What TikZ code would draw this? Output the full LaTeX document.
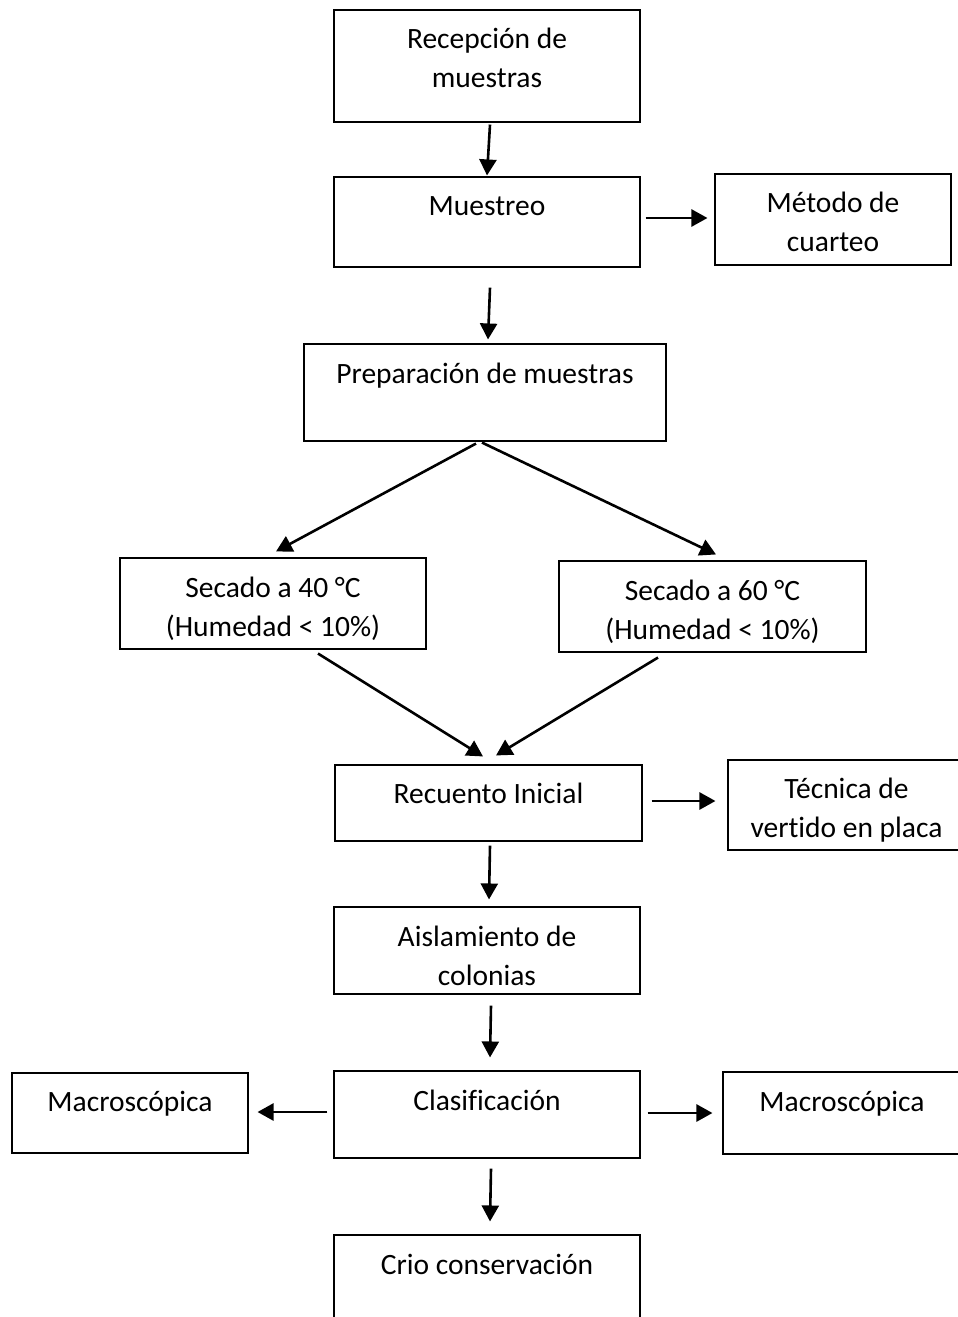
\documentclass[tikz,border=0pt]{standalone}
\usepackage{fontspec}
\setmainfont{Carlito}[Ligatures=NoCommon]
\usetikzlibrary{arrows.meta}
\newcommand\firststrut{\rule{0pt}{26.5pt}}
\begin{document}
\begin{tikzpicture}[x=1pt,y=-1pt,
  box/.style={draw=black, line width=1.1pt, rectangle, inner sep=0pt},
  txt/.style={anchor=north, inner sep=0pt, align=center, text=black,
    font=\fontsize{29.5}{39}\selectfont},
  arr/.style={line width=2.6pt, -{Triangle[length=16pt,width=17pt]}}]
\path[use as bounding box] (0,0) rectangle (958,1317);
\clip (0,0) rectangle (958,1317);
% boxes
\node[box, minimum width=306pt, minimum height=112pt] (rec)  at (487,66) {};
\node[box, minimum width=306pt, minimum height=90pt]  (mue)  at (487,222) {};
\node[box, minimum width=236pt, minimum height=91pt]  (met)  at (833,219.5) {};
\node[box, minimum width=362pt, minimum height=97pt]  (prep) at (485,392.5) {};
\node[box, minimum width=306pt, minimum height=91pt]  (sa)   at (273,603.5) {};
\node[box, minimum width=307pt, minimum height=91pt]  (sb)   at (712.5,606.5) {};
\node[box, minimum width=307pt, minimum height=76pt]  (reci) at (488.5,803) {};
\node[box, minimum width=237pt, minimum height=90pt]  (tec)  at (846.5,805) {};
\node[box, minimum width=306pt, minimum height=87pt]  (ais)  at (487,950.5) {};
\node[box, minimum width=236pt, minimum height=80pt]  (maca) at (130,1113) {};
\node[box, minimum width=306pt, minimum height=87pt]  (clas) at (487,1114.5) {};
\node[box, minimum width=238pt, minimum height=82pt]  (macb) at (842,1113) {};
\node[box, minimum width=306pt, minimum height=95pt]  (crio) at (487,1282.5) {};
% texts
\node[txt] (rec-t)  at ([yshift=-12pt]rec.north)  {\firststrut Recepción de\\muestras};
\node[txt] (mue-t)  at ([yshift=-12.5pt]mue.north)  {\firststrut Muestreo};
\node[txt] (met-t)  at ([yshift=-12.5pt]met.north)  {\firststrut Método de\\cuarteo};
\node[txt] (prep-t) at ([yshift=-13pt]prep.north) {\firststrut Preparación de muestras};
\node[txt] (sa-t)   at ([yshift=-13pt]sa.north)   {\firststrut Secado a 40 °C\\(Humedad < 10\%)};
\node[txt] (sb-t)   at ([yshift=-13pt]sb.north)   {\firststrut Secado a 60 °C\\(Humedad < 10\%)};
\node[txt] (reci-t) at ([yshift=-12.5pt]reci.north) {\firststrut Recuento Inicial};
\node[txt] (tec-t)  at ([yshift=-12.5pt]tec.north)  {\firststrut Técnica de\\vertido en placa};
\node[txt] (ais-t)  at ([yshift=-13pt]ais.north)  {\firststrut Aislamiento de\\colonias};
\node[txt] (maca-t) at ([yshift=-12.5pt]maca.north) {\firststrut Macroscópica};
\node[txt] (clas-t) at ([yshift=-13pt]clas.north) {\firststrut Clasificación};
\node[txt] (macb-t) at ([yshift=-13pt]macb.north) {\firststrut Macroscópica};
\node[txt] (crio-t) at ([yshift=-13pt]crio.north) {\firststrut Crio conservación};
% arrows
\draw[arr] ([xshift=3pt,yshift=-2pt]rec.south) -- ([yshift=1pt]mue.north);
\draw[arr] ([xshift=5pt,yshift=4pt]mue.east) -- ([xshift=-7pt,yshift=1.5pt]met.west);
\draw[arr] ([xshift=3pt,yshift=-20pt]mue.south) -- ([xshift=3pt,yshift=4pt]prep.north);
\draw[arr] ([xshift=-9pt,yshift=-2pt]prep.south) -- ([xshift=3pt,yshift=6pt]sa.north);
\draw[arr] ([xshift=-3pt,yshift=-1pt]prep.south) -- ([xshift=3.5pt,yshift=6pt]sb.north);
\draw[arr] ([xshift=45pt,yshift=-4pt]sa.south) -- ([xshift=-5.5pt,yshift=8pt]reci.north);
\draw[arr] ([xshift=-54.5pt,yshift=-5pt]sb.south) -- ([xshift=7.5pt,yshift=9pt]reci.north);
\draw[arr] ([xshift=9pt,yshift=2pt]reci.east) -- ([xshift=-12pt,yshift=4pt]tec.west);
\draw[arr] ([xshift=1.5pt,yshift=-4pt]reci.south) -- ([xshift=2pt,yshift=7pt]ais.north);
\draw[arr] ([xshift=4pt,yshift=-11pt]ais.south) -- ([xshift=3pt,yshift=13pt]clas.north);
\draw[arr] ([xshift=-6pt,yshift=2.5pt]clas.west) -- ([xshift=9pt,yshift=1pt]maca.east);
\draw[arr] ([xshift=7pt,yshift=1.5pt]clas.east) -- ([xshift=-10pt]macb.west);
\draw[arr] ([xshift=4pt,yshift=-10pt]clas.south) -- ([xshift=3pt,yshift=13pt]crio.north);
\end{tikzpicture}
\end{document}
